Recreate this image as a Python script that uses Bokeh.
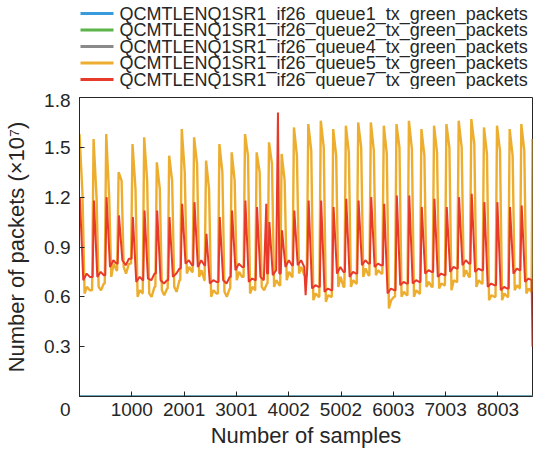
from bokeh.plotting import figure
from bokeh.layouts import column
from bokeh.models import Range1d, FixedTicker
from bokeh.core.properties import value
from bokeh.embed import file_html
from bokeh.resources import INLINE

FONT = "Liberation Sans"
TXT = "#262626"

n_samples = 8665
x_ticks = [1000, 2001, 3001, 4002, 5002, 6003, 7003, 8003]
y_ticks = [0, 0.3, 0.6, 0.9, 1.2, 1.5, 1.8]

names = [
    "QCMTLENQ1SR1_if26_queue1_tx_green_packets",
    "QCMTLENQ1SR1_if26_queue2_tx_green_packets",
    "QCMTLENQ1SR1_if26_queue4_tx_green_packets",
    "QCMTLENQ1SR1_if26_queue5_tx_green_packets",
    "QCMTLENQ1SR1_if26_queue7_tx_green_packets",
]
colors = ["#3A9BDC", "#5DB54A", "#8A8A8A", "#EDAE2F", "#E83A2B"]

# series that stay at zero (x 1e7 packets)
zero_x = [0, n_samples]
q1_vals = [0.0, 0.0]
q2_vals = [0.0, 0.0]
q4_vals = [0.0, 0.0]

# per-cycle readings (sample index of each daily peak)
cycle_pos = [12, 281, 523, 760, 1026, 1249, 1491, 1727, 1968, 2204, 2433, 2688,
             2923, 3178, 3401, 3637, 3879, 4114, 4388, 4627, 4865, 5107, 5343, 5585,
             5833, 6075, 6313, 6552, 6794, 7030, 7265, 7507, 7749, 7998, 8240, 8463]

# queue5 (orange)
q5_peak = [1.58, 1.55, 1.58, 1.35, 1.52, 1.56, 1.41, 1.45, 1.61, 1.56, 1.42, 1.52,
           1.47, 1.58, 1.47, 1.53, 1.46, 1.62, 1.64, 1.66, 1.61, 1.63, 1.65, 1.65,
           1.63, 1.64, 1.66, 1.61, 1.63, 1.64, 1.66, 1.67, 1.62, 1.63, 1.61, 1.64]
q5_shoulder = [1.22, 1.20, 1.20, 1.30, 1.25, 1.30, 1.25, 1.30, 1.35, 1.40, 1.25, 1.35,
               1.30, 1.45, 1.35, 1.40, 1.30, 1.45, 1.48, 1.50, 1.45, 1.47, 1.50, 1.48,
               1.46, 1.50, 1.49, 1.45, 1.47, 1.50, 1.50, 1.52, 1.46, 1.48, 1.45, 1.48]
q5_trough_a = [0.62, 0.66, 0.72, 0.78, 0.60, 0.62, 0.64, 0.66, 0.74, 0.72, 0.60, 0.63,
               0.70, 0.62, 0.66, 0.66, 0.70, 0.74, 0.58, 0.57, 0.66, 0.66, 0.72, 0.73,
               0.53, 0.60, 0.60, 0.66, 0.65, 0.64, 0.72, 0.66, 0.58, 0.58, 0.64, 0.62]
q5_trough_b = [0.66, 0.64, 0.80, 0.74, 0.64, 0.60, 0.61, 0.63, 0.78, 0.76, 0.64, 0.60,
               0.75, 0.66, 0.64, 0.70, 0.75, 0.78, 0.62, 0.61, 0.72, 0.70, 0.77, 0.76,
               0.58, 0.63, 0.64, 0.69, 0.68, 0.70, 0.76, 0.70, 0.61, 0.62, 0.67, 0.65]
q5_trough_c = [0.64, 0.68, 0.76, 0.80, 0.62, 0.66, 0.65, 0.70, 0.75, 0.70, 0.62, 0.65,
               0.72, 0.64, 0.68, 0.67, 0.72, 0.73, 0.60, 0.60, 0.66, 0.68, 0.73, 0.74,
               0.60, 0.61, 0.62, 0.66, 0.67, 0.69, 0.72, 0.68, 0.60, 0.60, 0.65, 0.63]
q5_end = 1.55

# queue7 (red)
q7_peak = [1.20, 1.18, 1.20, 1.09, 1.08, 1.12, 1.12, 1.08, 1.16, 1.17, 0.98, 1.08,
           1.12, 1.18, 1.14, 1.05, 1.00, 1.12, 1.18, 1.18, 1.14, 1.19, 1.18, 1.20,
           1.16, 1.21, 1.21, 1.14, 1.19, 1.14, 1.20, 1.22, 1.17, 1.17, 1.14, 1.15]
q7_trough_a = [0.70, 0.72, 0.78, 0.82, 0.69, 0.71, 0.70, 0.72, 0.80, 0.78, 0.68, 0.70,
               0.76, 0.69, 0.72, 0.73, 0.78, 0.79, 0.65, 0.63, 0.74, 0.72, 0.79, 0.78,
               0.62, 0.67, 0.68, 0.74, 0.72, 0.75, 0.79, 0.75, 0.66, 0.64, 0.74, 0.69]
q7_trough_b = [0.74, 0.75, 0.82, 0.79, 0.72, 0.70, 0.68, 0.74, 0.82, 0.82, 0.70, 0.68,
               0.80, 0.71, 0.70, 0.76, 0.82, 0.82, 0.67, 0.65, 0.78, 0.75, 0.82, 0.80,
               0.65, 0.69, 0.70, 0.76, 0.74, 0.78, 0.82, 0.77, 0.68, 0.66, 0.77, 0.71]
q7_trough_c = [0.72, 0.73, 0.80, 0.83, 0.70, 0.74, 0.70, 0.77, 0.79, 0.79, 0.69, 0.72,
               0.78, 0.70, 0.74, 0.74, 0.79, 0.78, 0.66, 0.64, 0.75, 0.74, 0.80, 0.79,
               0.64, 0.68, 0.69, 0.75, 0.73, 0.77, 0.80, 0.76, 0.67, 0.65, 0.76, 0.70]
q7_spike_x = [3573, 3796, 4325]
q7_spike_y = [1.16, 1.71, 0.61]
q7_end = 0.30

# ---- assemble polylines from the readings ----
q5_x, q5_y = [], []
for i, P in enumerate(cycle_pos):
    if i > 0:
        q5_x.append(P - 40); q5_y.append(q5_trough_c[i - 1])
    q5_x += [P - 12, P + 45, P + 85, P + 130, P + 185]
    q5_y += [q5_peak[i], q5_shoulder[i], q5_trough_a[i], q5_trough_b[i], q5_trough_c[i]]
q5_x.append(n_samples); q5_y.append(q5_end)

pts = []
for i, P in enumerate(cycle_pos):
    if i > 0:
        pts.append((P - 30, q7_trough_c[i - 1]))
    pts += [(P - 5, q7_peak[i]), (P + 60, q7_trough_a[i]),
            (P + 125, q7_trough_b[i]), (P + 185, q7_trough_c[i])]
pts += list(zip(q7_spike_x, q7_spike_y))
pts.append((n_samples, q7_end))
pts.sort(key=lambda t: t[0])
q7_x = [t[0] for t in pts]
q7_y = [t[1] for t in pts]

W = 540
LEFT = 79
RIGHT = 8
LEG_H = 89

# ---------------- legend strip (frame aligned with the main chart) ----------------
leg = figure(width=W, height=LEG_H, output_backend="svg", toolbar_location=None,
             x_range=Range1d(LEFT, W - RIGHT), y_range=Range1d(LEG_H, 0),
             min_border_left=LEFT, min_border_right=RIGHT, min_border_top=0,
             min_border_bottom=0, x_axis_location=None, y_axis_location=None)
leg.outline_line_color = None
leg.grid.visible = False
leg.background_fill_color = "white"
leg.border_fill_color = "white"
row_y = [13, 29.5, 46, 62.5, 79]
leg.segment(x0=[80] * 5, x1=[113] * 5, y0=row_y, y1=row_y, color=colors, line_width=3)
leg.text(x=[119] * 5, y=row_y, text=names, text_baseline="middle", text_align="left",
         text_font=value(FONT), text_font_size=value("18px"), text_color=TXT)

# ---------------- main chart ----------------
p = figure(width=W, height=450 - LEG_H, output_backend="svg", toolbar_location=None,
           x_range=Range1d(0, n_samples), y_range=Range1d(0, 1.8),
           min_border_left=LEFT, min_border_right=RIGHT, min_border_top=8,
           min_border_bottom=52)

p.background_fill_color = "white"
p.border_fill_color = "white"
p.outline_line_color = TXT
p.outline_line_width = 1
p.grid.visible = False

p.line(zero_x, q2_vals, color=colors[1], line_width=2)
p.line(zero_x, q4_vals, color=colors[2], line_width=2)
p.line(zero_x, q1_vals, color=colors[0], line_width=2)
p.line(q5_x, q5_y, color=colors[3], line_width=2.4)
p.line(q7_x, q7_y, color=colors[4], line_width=2)

for ax in (p.xaxis[0], p.yaxis[0]):
    ax.major_tick_in = 5
    ax.major_tick_out = 0
    ax.minor_tick_in = 0
    ax.minor_tick_out = 0
    ax.axis_line_color = TXT
    ax.major_tick_line_color = TXT
    ax.major_label_text_font = FONT
    ax.major_label_text_font_size = "19px"
    ax.major_label_text_color = TXT
    ax.axis_label_text_font = FONT
    ax.axis_label_text_font_size = "22px"
    ax.axis_label_text_color = TXT
    ax.axis_label_text_font_style = "normal"

p.xaxis.ticker = FixedTicker(ticks=x_ticks)
p.yaxis.ticker = FixedTicker(ticks=y_ticks)
y_labels = {t: f"{t:.1f}" for t in y_ticks}
y_labels[0] = "\n0"
p.yaxis.major_label_overrides = y_labels
p.xaxis.axis_label = "Number of samples"
p.yaxis.axis_label = "Number of packets (×10⁷)"
p.xaxis.major_label_standoff = 6
p.xaxis.axis_label_standoff = 4
p.yaxis.major_label_standoff = 9
p.yaxis.axis_label_standoff = 12

layout = column(leg, p, spacing=0)
open("out.html", "w").write(file_html(layout, INLINE))
